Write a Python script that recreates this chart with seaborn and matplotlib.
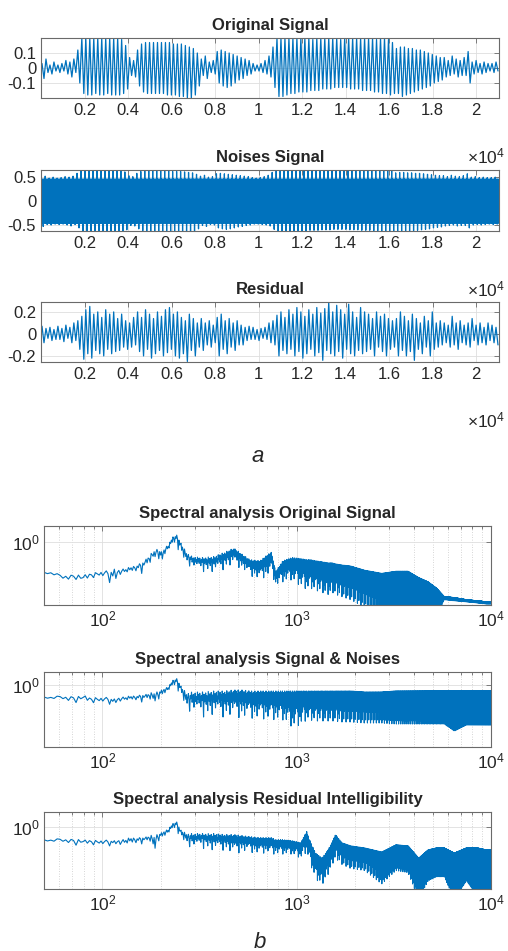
import numpy as np
import matplotlib
matplotlib.use("Agg")
import matplotlib.pyplot as plt
from matplotlib.ticker import NullLocator, NullFormatter
import seaborn as sns

# ---------------- data ----------------
N_SAMPLES = 21050          # length of the time signal (x axis goes to ~2.1e4)

# positive / negative peak of every pitch cycle of the original signal
orig_up = (
    [0.03, 0.06, 0.02, 0.04, 0.02, 0.03, 0.05, 0.04, 0.06]
    + [0.12, 0.20, 0.20, 0.20, 0.20, 0.20, 0.20, 0.20, 0.20, 0.20, 0.20, 0.19, 0.15]
    + [0.07, 0.05]
    + [0.12, 0.16, 0.17, 0.17, 0.17, 0.17, 0.17, 0.17, 0.17, 0.16, 0.16, 0.16, 0.15, 0.14, 0.13, 0.10]
    + [0.06, 0.08, 0.04, 0.05]
    + [0.11, 0.12, 0.11, 0.10, 0.09, 0.08, 0.07, 0.06, 0.05]
    + [0.03, 0.02, 0.03, 0.05, 0.08]
    + [0.14, 0.20, 0.20, 0.20, 0.20, 0.20, 0.20, 0.20, 0.20, 0.20, 0.19, 0.20, 0.20, 0.20, 0.20, 0.20,
       0.20, 0.19, 0.20, 0.20, 0.20, 0.20, 0.20, 0.20, 0.20, 0.20, 0.19, 0.20, 0.20, 0.19, 0.17]
    + [0.13, 0.14, 0.14, 0.13, 0.13, 0.12, 0.12, 0.11, 0.10, 0.09, 0.08, 0.07]
    + [0.07, 0.05, 0.08, 0.06, 0.05, 0.07, 0.11, 0.04, 0.05, 0.03, 0.04, 0.03, 0.03, 0.04]
)
orig_lo = (
    [-0.07, -0.03, -0.04, -0.02, -0.03, -0.02, -0.04, -0.06, -0.03]
    + [-0.10, -0.17, -0.18, -0.18, -0.17, -0.18, -0.18, -0.17, -0.18, -0.18, -0.18, -0.17, -0.14]
    + [-0.05, -0.06]
    + [-0.12, -0.16, -0.17, -0.17, -0.17, -0.17, -0.17, -0.18, -0.18, -0.18, -0.19, -0.19, -0.20, -0.20, -0.18, -0.12]
    + [-0.05, -0.07, -0.03, -0.04]
    + [-0.10, -0.12, -0.13, -0.12, -0.10, -0.08, -0.07, -0.05, -0.04]
    + [-0.02, -0.02, -0.03, -0.04, -0.06]
    + [-0.13, -0.19, -0.19, -0.18, -0.17, -0.17, -0.16, -0.16, -0.16, -0.15, -0.15, -0.15, -0.14, -0.14, -0.14, -0.13,
       -0.13, -0.13, -0.13, -0.14, -0.14, -0.14, -0.15, -0.15, -0.15, -0.16, -0.16, -0.17, -0.17, -0.18, -0.17]
    + [-0.17, -0.19, -0.18, -0.17, -0.16, -0.15, -0.14, -0.13, -0.12, -0.10, -0.09, -0.08]
    + [-0.06, -0.05, -0.04, -0.06, -0.05, -0.05, -0.10, -0.04, -0.03, -0.04, -0.03, -0.02, -0.03, -0.02]
)

# residual after the suppression, same cycles
resid_up = (
    [0.07, 0.05, 0.06, 0.04, 0.07, 0.05, 0.08, 0.06, 0.10]
    + [0.12, 0.16, 0.22, 0.25, 0.18, 0.20, 0.15, 0.22, 0.18, 0.20, 0.14, 0.18, 0.12]
    + [0.10, 0.15]
    + [0.20, 0.15, 0.22, 0.18, 0.14, 0.20, 0.16, 0.22, 0.24, 0.18, 0.20, 0.15, 0.12, 0.18, 0.14, 0.10]
    + [0.14, 0.10, 0.12, 0.08]
    + [0.15, 0.18, 0.12, 0.14, 0.10, 0.12, 0.08, 0.06, 0.07]
    + [0.06, 0.04, 0.05, 0.06, 0.10]
    + [0.12, 0.17, 0.20, 0.15, 0.22, 0.18, 0.24, 0.20, 0.16, 0.22, 0.18, 0.24, 0.19, 0.23, 0.29, 0.20,
       0.26, 0.22, 0.18, 0.27, 0.20, 0.15, 0.24, 0.20, 0.18, 0.14, 0.20, 0.16, 0.18, 0.14, 0.12]
    + [0.14, 0.20, 0.16, 0.12, 0.18, 0.14, 0.10, 0.16, 0.12, 0.20, 0.10, 0.12]
    + [0.10, 0.08, 0.16, 0.10, 0.12, 0.08, 0.10, 0.14, 0.08, 0.10, 0.06, 0.10, 0.08, 0.06]
)
resid_lo = (
    [-0.08, -0.04, -0.06, -0.05, -0.05, -0.07, -0.04, -0.08, -0.06]
    + [-0.14, -0.23, -0.18, -0.22, -0.15, -0.18, -0.20, -0.14, -0.18, -0.16, -0.15, -0.12, -0.14]
    + [-0.12, -0.10]
    + [-0.16, -0.20, -0.14, -0.22, -0.18, -0.15, -0.20, -0.17, -0.14, -0.20, -0.22, -0.18, -0.25, -0.15, -0.20, -0.12]
    + [-0.15, -0.10, -0.12, -0.08]
    + [-0.20, -0.14, -0.18, -0.12, -0.15, -0.10, -0.10, -0.06, -0.05]
    + [-0.05, -0.06, -0.04, -0.05, -0.08]
    + [-0.10, -0.20, -0.15, -0.18, -0.14, -0.20, -0.16, -0.22, -0.18, -0.14, -0.20, -0.17, -0.24, -0.15, -0.18, -0.20,
       -0.16, -0.22, -0.14, -0.18, -0.20, -0.15, -0.18, -0.16, -0.14, -0.20, -0.12, -0.16, -0.20, -0.14, -0.12]
    + [-0.20, -0.15, -0.20, -0.16, -0.24, -0.14, -0.18, -0.12, -0.20, -0.14, -0.12, -0.10]
    + [-0.08, -0.12, -0.10, -0.14, -0.08, -0.10, -0.12, -0.06, -0.10, -0.08, -0.10, -0.06, -0.08, -0.10]
)
NOISE_LEVEL = 0.46          # amplitude of the added noise
NOISE_PER_CYCLE = 5

X_TICKS = [2000, 4000, 6000, 8000, 10000, 12000, 14000, 16000, 18000, 20000]
X_TICK_LABELS = ['0.2', '0.4', '0.6', '0.8', '1', '1.2', '1.4', '1.6', '1.8', '2']

# spectra: band edges (Hz) and log10 magnitude upper / lower level inside each band
FREQ_EDGES = [50, 60, 64, 70, 78, 82, 90, 100, 112, 118, 130, 150, 170, 182, 188, 200, 205, 215,
              225, 235, 245, 260, 280, 300, 350, 400, 450, 500, 550, 600, 700, 720, 760, 800, 900,
              1000, 1100, 1150, 1200, 1300, 1400, 1500, 1550, 1620, 1800, 2000, 2500, 3000, 3500,
              4000, 4500, 5000, 5500, 6000, 7000, 8000, 9000, 10000]
DF = 2.1
# how deep each FFT bin sits between the upper and lower level (repeats along the bins)
BIN_DEPTH = [0.0, 0.3, 0.1, 0.45, 0.05, 0.25, 0.6, 0.15, 0.35, 0.0,
             0.2, 1.0, 0.1, 0.4, 0.25, 0.05, 0.5, 0.15, 0.3, 0.75,
             0.0, 0.2, 0.4, 0.1, 0.55, 0.25, 0.05, 0.35, 0.9, 0.15,
             0.3, 0.0, 0.45, 0.2, 0.1, 0.65, 0.3, 0.05, 0.4, 0.2, 0.5]

spec_orig_hi = [-0.29, -0.31, -0.32, -0.31, -0.31, -0.30, -0.29, -0.27, -0.26, -0.26,
                -0.24, -0.20, -0.12, -0.08, -0.06, -0.10, -0.05, -0.02, 0.05, 0.07,
                0.00, -0.10, -0.14, -0.15, -0.14, -0.10, -0.06, -0.12, -0.17, -0.18,
                -0.12, -0.10, -0.28, -0.18, -0.15, -0.16, -0.17, -0.17, -0.18, -0.19,
                -0.20, -0.20, -0.21, -0.22, -0.23, -0.27, -0.30, -0.28, -0.28, -0.34,
                -0.38, -0.44, -0.52, -0.53, -0.55, -0.56, -0.57]
spec_orig_lo = [-0.33, -0.36, -0.42, -0.35, -0.44, -0.35, -0.36, -0.35, -0.50, -0.33,
                -0.32, -0.30, -0.22, -0.20, -0.16, -0.26, -0.14, -0.10, -0.05, -0.04,
                -0.12, -0.22, -0.26, -0.28, -0.30, -0.26, -0.22, -0.26, -0.32, -0.36,
                -0.32, -0.28, -0.42, -0.38, -0.36, -0.42, -0.45, -0.44, -0.46, -0.48,
                -0.50, -0.48, -0.50, -0.52, -0.55, -0.62, -0.70, -0.70, -0.70, -0.70,
                -0.70, -0.70, -0.55, -0.56, -0.57, -0.58, -0.59]
spec_noisy_hi = [-0.12, -0.10, -0.12, -0.11, -0.10, -0.12, -0.13, -0.12, -0.14, -0.12,
                 -0.11, -0.10, -0.08, -0.07, -0.06, -0.05, -0.03, -0.01, 0.05, 0.07,
                 0.00, -0.08, -0.07, -0.07, -0.06, -0.06, -0.05, -0.05, -0.06, -0.06,
                 -0.06, -0.06, -0.06, -0.06, -0.06, -0.06, -0.06, -0.06, -0.06, -0.06,
                 -0.06, -0.06, -0.06, -0.06, -0.06, -0.07, -0.07, -0.06, -0.06, -0.06,
                 -0.06, -0.06, -0.06, -0.06, -0.06, -0.06, -0.06]
spec_noisy_lo = [-0.16, -0.15, -0.22, -0.17, -0.20, -0.19, -0.20, -0.18, -0.24, -0.18,
                 -0.18, -0.17, -0.16, -0.25, -0.15, -0.14, -0.10, -0.08, -0.04, -0.03,
                 -0.10, -0.26, -0.30, -0.32, -0.32, -0.32, -0.32, -0.33, -0.33, -0.34,
                 -0.34, -0.34, -0.35, -0.35, -0.42, -0.40, -0.35, -0.35, -0.36, -0.36,
                 -0.36, -0.36, -0.36, -0.37, -0.37, -0.38, -0.38, -0.39, -0.39, -0.39,
                 -0.39, -0.39, -0.39, -0.46, -0.40, -0.40, -0.40]
spec_resid_hi = [-0.12, -0.10, -0.12, -0.11, -0.12, -0.12, -0.13, -0.12, -0.13, -0.12,
                 -0.10, -0.10, -0.08, -0.07, -0.06, -0.05, -0.03, -0.01, 0.04, 0.06,
                 -0.02, -0.06, -0.06, -0.06, -0.06, -0.07, -0.07, -0.08, -0.09, -0.10,
                 -0.10, -0.10, -0.12, -0.12, -0.13, -0.15, -0.04, -0.14, -0.25, -0.30,
                 -0.22, -0.14, -0.07, -0.15, -0.18, -0.20, -0.24, -0.17, -0.18, -0.30,
                 -0.22, -0.20, -0.20, -0.25, -0.20, -0.20, -0.22]
spec_resid_lo = [-0.16, -0.15, -0.20, -0.17, -0.20, -0.18, -0.19, -0.18, -0.20, -0.19,
                 -0.20, -0.16, -0.15, -0.35, -0.14, -0.13, -0.10, -0.08, -0.04, -0.03,
                 -0.10, -0.18, -0.22, -0.20, -0.24, -0.22, -0.26, -0.24, -0.24, -0.26,
                 -0.24, -0.26, -0.26, -0.26, -0.26, -0.30, -0.24, -0.36, -0.50, -0.56,
                 -0.46, -0.36, -0.30, -0.36, -0.40, -0.42, -0.55, -0.42, -0.44, -0.70,
                 -0.52, -0.48, -0.48, -0.70, -0.52, -0.66, -0.62]

assert len(orig_up) == len(orig_lo) == len(resid_up) == len(resid_lo)
for s in (spec_orig_hi, spec_orig_lo, spec_noisy_hi, spec_noisy_lo, spec_resid_hi, spec_resid_lo):
    assert len(s) == len(FREQ_EDGES) - 1

BLUE = '#0072BD'

# ---------------- helpers ----------------
def cycles_to_line(up, lo):
    y = np.column_stack([up, lo]).ravel()
    x = (np.arange(len(y)) + 0.5) * N_SAMPLES / len(y)
    return x, y


def add_noise(up, lo, level, per_cycle):
    vals = []
    for u, l in zip(up, lo):
        seq = [level, -level] * per_cycle
        seq[0] = level + u            # signal peak on top of the noise
        seq[per_cycle] = -level + l   # signal trough on top of the noise
        vals.extend(seq)
    y = np.array(vals)
    x = (np.arange(len(y)) + 0.5) * N_SAMPLES / len(y)
    return x, y


def spectrum(hi, lo):
    f = np.arange(FREQ_EDGES[0], FREQ_EDGES[-1] + DF, DF)
    edges = np.log10(FREQ_EDGES)
    centres = (edges[:-1] + edges[1:]) / 2
    top = np.interp(np.log10(f), centres, hi)
    bottom = np.interp(np.log10(f), centres, lo)
    depth = np.resize(BIN_DEPTH, len(f))
    return f, 10 ** (top - depth * (top - bottom))


# ---------------- figure ----------------
sns.set_theme(style='white')
plt.rcParams['font.family'] = ['Liberation Sans', 'DejaVu Sans']
plt.rcParams['mathtext.fontset'] = 'custom'
plt.rcParams['mathtext.rm'] = 'Liberation Sans'
plt.rcParams['mathtext.it'] = 'Liberation Sans:italic'

W, H = 508, 951
fig = plt.figure(figsize=(W / 100, H / 100), dpi=100)
fig.patch.set_facecolor('white')


def add_panel(l, t, r, b):
    ax = fig.add_axes([l / W, 1 - b / H, (r - l) / W, (b - t) / H])
    ax.set_facecolor('white')
    for sp in ax.spines.values():
        sp.set_color('#6a6a6a')
        sp.set_linewidth(0.8)
    ax.tick_params(which='both', direction='in', top=True, right=True,
                   color='#6a6a6a', labelcolor='#262626', width=0.6)
    ax.tick_params(which='major', length=3.5)
    ax.tick_params(which='minor', length=2)
    ax.grid(True, which='major', color='#dedede', linewidth=0.6)
    ax.set_axisbelow(True)
    return ax


def time_panel(box, x, y, title, ylim, yticks, ylabels):
    ax = add_panel(*box)
    sns.lineplot(x=x, y=y, ax=ax, color=BLUE, linewidth=0.9,
                 estimator=None, sort=False, legend=False)
    ax.set_xlim(0, N_SAMPLES)
    ax.set_ylim(*ylim)
    ax.set_xticks(X_TICKS)
    ax.set_xticklabels(X_TICK_LABELS)
    ax.set_yticks(yticks)
    ax.set_yticklabels(ylabels)
    ax.tick_params(axis='both', labelsize=12, pad=3.5)
    ax.set_xlabel('')
    ax.set_ylabel('')
    ax.set_title(title, fontsize=12, fontweight='bold', pad=6)
    fig.text(505 / W, 1 - (box[3] + 58) / H, r'$\times10^{4}$', ha='right',
             va='center', fontsize=12.5, color='#262626')
    return ax


def spec_panel(box, f, mag, title, ylim):
    ax = add_panel(*box)
    sns.lineplot(x=f, y=mag, ax=ax, color=BLUE, linewidth=0.8,
                 estimator=None, sort=False, legend=False)
    ax.set_xscale('log')
    ax.set_yscale('log')
    ax.set_xlim(FREQ_EDGES[0], FREQ_EDGES[-1])
    ax.set_ylim(*ylim)
    ax.set_xticks([100, 1000, 10000])
    ax.set_xticklabels([r'$10^{2}$', r'$10^{3}$', r'$10^{4}$'])
    ax.xaxis.set_minor_formatter(NullFormatter())
    ax.set_yticks([1])
    ax.set_yticklabels([r'$10^{0}$'])
    ax.yaxis.set_minor_locator(NullLocator())
    ax.grid(True, which='minor', axis='x', color='#c8c8c8', linestyle=(0, (1, 2)), linewidth=0.6)
    ax.tick_params(axis='both', labelsize=12.5, pad=3)
    ax.set_xlabel('')
    ax.set_ylabel('')
    ax.set_title(title, fontsize=12, fontweight='bold', pad=6)
    return ax


x1, y1 = cycles_to_line(orig_up, orig_lo)
x2, y2 = add_noise(orig_up, orig_lo, NOISE_LEVEL, NOISE_PER_CYCLE)
x3, y3 = cycles_to_line(resid_up, resid_lo)

time_panel((41, 38, 499, 98), x1, y1, 'Original Signal', (-0.2, 0.2),
           [-0.1, 0, 0.1], ['-0.1', '0', '0.1'])
time_panel((41, 170, 499, 231), x2, y2, 'Noises Signal', (-0.625, 0.65),
           [-0.5, 0, 0.5], ['-0.5', '0', '0.5'])
time_panel((41, 302, 499, 362), x3, y3, 'Residual', (-0.255, 0.29),
           [-0.2, 0, 0.2], ['-0.2', '0', '0.2'])

fig.text(258 / W, 1 - 457 / H, 'a', ha='center', va='center', fontsize=16,
         style='italic', color='#262626')

fa, ma = spectrum(spec_orig_hi, spec_orig_lo)
fb, mb = spectrum(spec_noisy_hi, spec_noisy_lo)
fc, mc = spectrum(spec_resid_hi, spec_resid_lo)

spec_panel((44, 526, 491, 605), fa, ma, 'Spectral analysis Original Signal',
           (10 ** -0.6, 10 ** 0.15))
spec_panel((44, 672, 491, 747), fb, mb, 'Spectral analysis Signal & Noises',
           (10 ** -0.62, 10 ** 0.13))
spec_panel((44, 812, 491, 889), fc, mc, 'Spectral analysis Residual Intelligibility',
           (10 ** -0.6, 10 ** 0.15))

fig.text(260 / W, 1 - 942 / H, 'b', ha='center', va='center', fontsize=16,
         style='italic', color='#262626')

plt.savefig('out.png', dpi=100, facecolor='white')
